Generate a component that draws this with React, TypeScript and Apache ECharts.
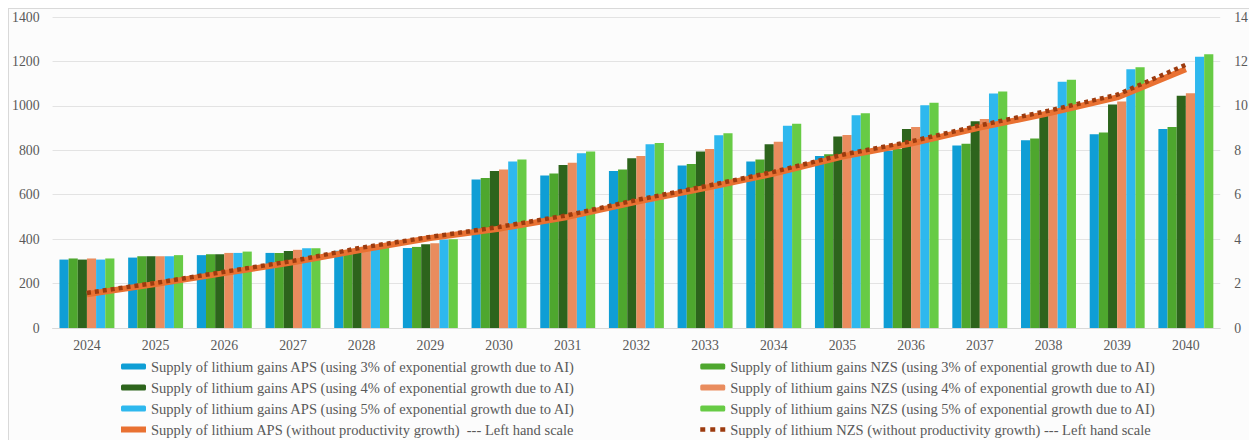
import React, { useEffect, useRef } from "react";
import * as echarts from "echarts";

const years = ["2024", "2025", "2026", "2027", "2028", "2029", "2030", "2031", "2032", "2033", "2034", "2035", "2036", "2037", "2038", "2039", "2040"];

const aps3 = [308, 317, 328, 338, 348, 360, 668, 687, 707, 731, 750, 774, 798, 821, 845, 872, 896];
const nzs3 = [313, 323, 332, 338, 350, 365, 675, 695, 714, 738, 759, 782, 806, 829, 853, 880, 905];
const aps4 = [308, 323, 332, 347, 352, 377, 707, 734, 764, 795, 827, 862, 896, 931, 967, 1006, 1045];
const nzs4 = [313, 323, 338, 352, 355, 382, 714, 744, 774, 806, 838, 869, 905, 941, 976, 1020, 1057];
const aps5 = [308, 323, 338, 359, 358, 398, 749, 787, 827, 868, 911, 958, 1003, 1056, 1108, 1165, 1221];
const nzs5 = [313, 328, 344, 359, 362, 400, 758, 795, 833, 877, 920, 967, 1014, 1065, 1117, 1174, 1232];

const apsLine = [1.52, 1.98, 2.47, 2.96, 3.52, 4.05, 4.47, 5.0, 5.68, 6.3, 6.95, 7.72, 8.3, 9.02, 9.66, 10.38, 11.65];
const nzsLine = [1.58, 2.03, 2.53, 3.02, 3.62, 4.1, 4.55, 5.08, 5.76, 6.38, 7.03, 7.8, 8.4, 9.12, 9.78, 10.5, 11.85];

const leftTicks = { min: 0, max: 1400, interval: 200 };
const rightTicks = { min: 0, max: 14, interval: 2 };

const names = {
  aps3: "Supply of lithium gains APS (using 3% of exponential growth due to AI)",
  nzs3: "Supply of lithium gains NZS (using 3% of exponential growth due to AI)",
  aps4: "Supply of lithium gains APS (using 4% of exponential growth due to AI)",
  nzs4: "Supply of lithium gains NZS (using 4% of exponential growth due to AI)",
  aps5: "Supply of lithium gains APS (using 5% of exponential growth due to AI)",
  nzs5: "Supply of lithium gains NZS (using 5% of exponential growth due to AI)",
  apsL: "Supply of lithium APS (without productivity growth)  --- Left hand scale",
  nzsL: "Supply of lithium NZS (without productivity growth) --- Left hand scale",
};

const FONT = "Liberation Serif, serif";
const GREY = "#595959";
const APS_LINE_COLOR = "#e97132";
const NZS_LINE_COLOR = "#9c3b0f";

export default function App() {
  const ref = useRef<HTMLDivElement>(null);
  useEffect(() => {
    if (!ref.current) return;
    const chart = echarts.init(ref.current, undefined, { renderer: "svg" });
    const bar = (name: string, data: number[], color: string) => ({
      name,
      type: "bar",
      data,
      barGap: "0%",
      barCategoryGap: "20%",
      itemStyle: { color },
    });
    const legendCommon = {
      orient: "vertical",
      itemWidth: 25,
      itemHeight: 6,
      itemGap: 6,
      padding: 0,
      height: 120,
      textStyle: { fontFamily: FONT, fontSize: 14.5, color: GREY },
      selectedMode: false,
    };
    chart.setOption({
      animation: false,
      textStyle: { fontFamily: FONT },
      grid: { left: 42, right: 28, top: 8, bottom: 112 },
      legend: [
        {
          ...legendCommon,
          left: 109,
          top: 350,
          data: [
            names.aps3,
            names.aps4,
            names.aps5,
            {
              name: names.apsL,
              itemStyle: { opacity: 0 },
              lineStyle: { width: 6, color: APS_LINE_COLOR, type: "solid" },
            },
          ],
        },
        {
          ...legendCommon,
          left: 689,
          top: 350,
          data: [
            names.nzs3,
            names.nzs4,
            names.nzs5,
            {
              name: names.nzsL,
              itemStyle: { opacity: 0 },
              lineStyle: { width: 4.5, color: NZS_LINE_COLOR, type: [5, 5] },
            },
          ],
        },
      ],
      xAxis: {
        type: "category",
        data: years,
        axisTick: { show: false },
        axisLine: { lineStyle: { color: "#d9d9d9" } },
        axisLabel: { color: GREY, fontSize: 13.8, fontFamily: FONT, margin: 10 },
      },
      yAxis: [
        {
          type: "value",
          ...leftTicks,
          axisLabel: { color: GREY, fontSize: 13.8, fontFamily: FONT, margin: 13, formatter: (v: number) => String(v) },
          splitLine: { lineStyle: { color: "#e3e3e3" } },
          axisLine: { show: false },
        },
        {
          type: "value",
          ...rightTicks,
          position: "right",
          axisLabel: { color: GREY, fontSize: 13.8, fontFamily: FONT, margin: 14, formatter: (v: number) => String(v) },
          splitLine: { show: false },
          axisLine: { show: false },
        },
      ],
      series: [
        bar(names.aps3, aps3, "#0f9ed5"),
        bar(names.nzs3, nzs3, "#4ea72e"),
        bar(names.aps4, aps4, "#2d641c"),
        bar(names.nzs4, nzs4, "#e98c5e"),
        bar(names.aps5, aps5, "#2eb8ee"),
        bar(names.nzs5, nzs5, "#67cb45"),
        {
          name: names.apsL,
          type: "line",
          yAxisIndex: 1,
          data: apsLine,
          symbol: "none",
          lineStyle: { color: APS_LINE_COLOR, width: 6, cap: "butt" },
          itemStyle: { color: APS_LINE_COLOR },
          z: 5,
        },
        {
          name: names.nzsL,
          type: "line",
          yAxisIndex: 1,
          data: nzsLine,
          symbol: "none",
          lineStyle: { color: NZS_LINE_COLOR, width: 4.5, type: [4, 4], cap: "butt" },
          itemStyle: { color: NZS_LINE_COLOR },
          z: 6,
        },
      ],
    });
    return () => chart.dispose();
  }, []);
  return (
    <div
      style={{
        width: 1244,
        height: 433,
        boxSizing: "border-box",
        border: "1px solid #d9d9d9",
        background: "#fcfcfc",
      }}
    >
      <div ref={ref} style={{ width: 1242, height: 431 }} />
    </div>
  );
}
